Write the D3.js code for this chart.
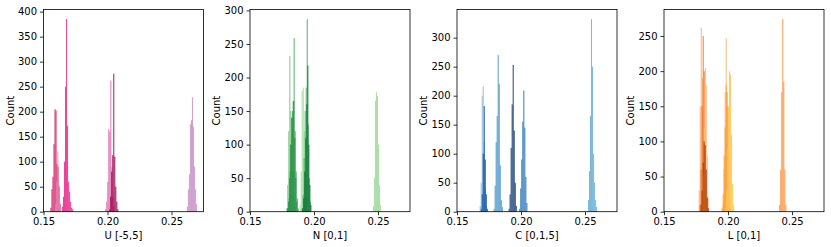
<!DOCTYPE html>
<html>
<head>
<meta charset="utf-8">
<script src="https://cdn.jsdelivr.net/npm/d3@7"></script>
<style>
  body { margin: 0; background: #fff; }
  text { font-family: "DejaVu Sans", sans-serif; }
</style>
</head>
<body>
<div id="chart"></div>
<script>
// bin width shared by all histograms
const binWidth = 0.0008;
const xTicks = [0.15, 0.20, 0.25];

// U [-5,5]
const uStarts = [0.1554, 0.1592, 0.1644, 0.1982, 0.2013, 0.2620];
const uCounts = [
  [8, 45, 70, 135, 205, 202, 95, 90, 50, 15],
  [15, 60, 120, 55, 20],
  [10, 30, 100, 250, 385, 172, 60, 40, 20, 8, 5],
  [5, 20, 60, 165, 160, 262, 90, 30, 10],
  [5, 30, 80, 113, 276, 110, 50, 20, 5],
  [10, 45, 75, 175, 183, 229, 170, 90, 45, 15]
];
const uTicks = [0, 50, 100, 150, 200, 250, 300, 350, 400];

// N [0,1]
const nStarts = [0.1783, 0.1793, 0.1790, 0.1888, 0.1903, 0.1908, 0.2460];
const nCounts = [
  [5, 40, 120, 232, 150, 110, 60, 25, 8],
  [5, 20, 60, 100, 140, 165, 259, 120, 60, 20, 5],
  [5, 15, 50, 100, 140, 150, 165, 110, 50, 15],
  [10, 60, 180, 185, 120, 60, 20],
  [5, 25, 80, 150, 185, 287, 130, 50, 15],
  [5, 20, 60, 110, 160, 218, 100, 40, 10],
  [8, 50, 165, 178, 172, 100, 40, 10]
];
const nTicks = [0, 50, 100, 150, 200, 250, 300];

// C [0,1,5]
const cStarts = [0.1677, 0.1685, 0.1786, 0.1903, 0.1986, 0.2523];
const cCounts = [
  [10, 50, 200, 216, 120, 40, 10],
  [5, 30, 100, 182, 90, 30, 5],
  [5, 45, 120, 165, 270, 220, 80, 20, 8],
  [5, 30, 110, 185, 253, 140, 50, 10],
  [5, 40, 90, 155, 209, 145, 60, 15],
  [20, 70, 165, 332, 250, 100, 50, 20, 8]
];
const cTicks = [0, 50, 100, 150, 200, 250, 300];

// L [0,1]
const lStarts = [0.1771, 0.1778, 0.1796, 0.1786, 0.1958, 0.1950, 0.1976, 0.2400];
const lCounts = [
  [30, 150, 262, 190, 100, 30, 8],
  [10, 60, 150, 250, 200, 120, 40, 10],
  [10, 50, 120, 205, 180, 80, 20],
  [10, 30, 70, 100, 95, 60, 20, 5],
  [10, 60, 170, 247, 150, 60, 15],
  [5, 25, 80, 120, 180, 170, 90, 30, 5],
  [5, 30, 90, 150, 200, 195, 110, 40, 10],
  [10, 60, 170, 274, 185, 60, 10]
];
const lTicks = [0, 50, 100, 150, 200, 250];

const uColors = ["#ce1256", "#e685bd", "#e7298a", "#df65b0", "#980043", "#c994c7"];
const nColors = ["#74c476", "#41ab5d", "#238b45", "#a1d99b", "#41ab5d", "#006d2c", "#a1d99b"];
const cColors = ["#8fb8dd", "#08519c", "#4292c6", "#08306b", "#2171b5", "#6baed6"];
const lColors = ["#fdae6b", "#f16913", "#fdbe85", "#a63603", "#fdae6b", "#fe9929", "#fec44f", "#fd8d3c"];

const panels = [
  { starts: uStarts, counts: uCounts, colors: uColors, ticks: uTicks, label: "U [-5,5]", left: 43.5 },
  { starts: nStarts, counts: nCounts, colors: nColors, ticks: nTicks, label: "N [0,1]", left: 250 },
  { starts: cStarts, counts: cCounts, colors: cColors, ticks: cTicks, label: "C [0,1,5]", left: 457 },
  { starts: lStarts, counts: lCounts, colors: lColors, ticks: lTicks, label: "L [0,1]", left: 664 }
];

const width = 831;
const height = 247;
const plotW = 160;
const plotTop = 9.5;
const plotBottom = 211.7;

const svg = d3.select("#chart")
  .append("svg")
  .attr("width", width)
  .attr("height", height);

panels.forEach(p => {
  const x = d3.scaleLinear()
    .domain([0.15, 0.275])
    .range([p.left, p.left + plotW]);

  // matplotlib style 5% headroom over the tallest bar
  const maxCount = d3.max(p.counts, c => d3.max(c));
  const y = d3.scaleLinear()
    .domain([0, maxCount * 1.05])
    .range([plotBottom, plotTop]);

  const g = svg.append("g");

  p.counts.forEach((counts, i) => {
    g.append("g")
      .selectAll("rect")
      .data(counts)
      .enter().append("rect")
      .attr("x", (d, j) => x(p.starts[i] + j * binWidth))
      .attr("width", (d, j) => x(p.starts[i] + (j + 1) * binWidth) - x(p.starts[i] + j * binWidth))
      .attr("y", d => y(d))
      .attr("height", d => y(0) - y(d))
      .attr("fill", p.colors[i])
      .attr("fill-opacity", 0.88);
  });

  const xAxis = g.append("g")
    .attr("transform", `translate(0,${plotBottom})`)
    .call(d3.axisBottom(x).tickValues(xTicks).tickFormat(d3.format(".2f")).tickSizeOuter(0).tickSize(3.5).tickPadding(3));

  const yAxis = g.append("g")
    .attr("transform", `translate(${p.left},0)`)
    .call(d3.axisLeft(y).tickValues(p.ticks).tickSizeOuter(0).tickSize(3.5).tickPadding(3));

  [xAxis, yAxis].forEach(a => {
    a.select(".domain").remove();
    a.selectAll("text").attr("font-size", 10).attr("fill", "#000")
      .style("font-family", "DejaVu Sans, sans-serif");
    a.selectAll("line").attr("stroke", "#000").attr("stroke-width", 0.8);
  });

  // frame around the axes
  g.append("rect")
    .attr("x", p.left)
    .attr("y", plotTop)
    .attr("width", plotW)
    .attr("height", plotBottom - plotTop)
    .attr("fill", "none")
    .attr("stroke", "#000")
    .attr("stroke-width", 0.8);

  g.append("text")
    .attr("x", p.left + plotW / 2)
    .attr("y", 239)
    .attr("text-anchor", "middle")
    .attr("font-size", 10)
    .text(p.label);

  g.append("text")
    .attr("transform", `translate(${p.left - 30},${(plotTop + plotBottom) / 2}) rotate(-90)`)
    .attr("text-anchor", "middle")
    .attr("font-size", 10)
    .text("Count");
});
</script>
</body>
</html>
